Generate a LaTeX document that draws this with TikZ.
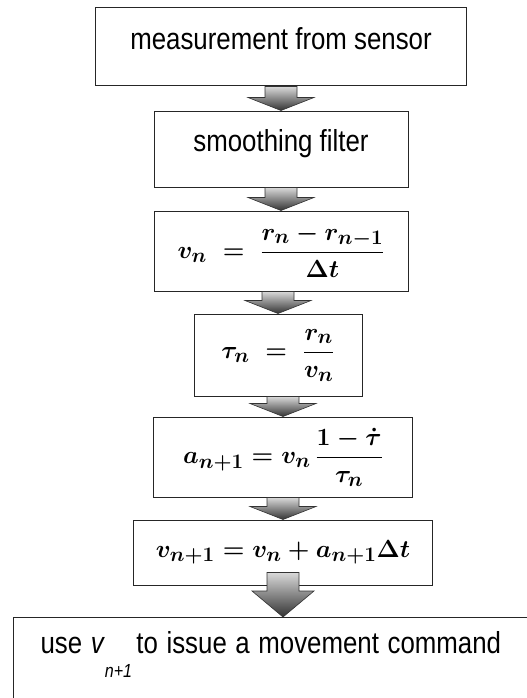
\documentclass[tikz,border=0pt]{standalone}
\usepackage{amsmath}
\usepackage{fontspec}
\setmainfont{Liberation Sans}
\usetikzlibrary{positioning,calc}

\newcommand{\narrowtxt}[1]{\scalebox{0.85}[1]{#1}}

\begin{document}
\begin{tikzpicture}[
      x=1bp, y=-1bp,
      node distance=22bp,
      every node/.style={font=\fontsize{30.5}{35}\selectfont},
      txtbox/.style={draw=black!85, line width=1bp, fill=white, text height=19bp, text depth=14bp},
      mathbox/.style={draw=black!85, line width=1bp, fill=white, inner sep=3bp, font=\fontsize{29}{33}\selectfont\boldmath},
      blockarr/.style={draw=black!80, line width=0.6bp, top color=gray!30, bottom color=black!80},
    ]
    \clip (0,0) rectangle (527,698);

    % Steps
    \node[txtbox, minimum width=370bp, minimum height=78bp] (meas) at (281,47) {\narrowtxt{measurement from sensor}};
    \node[txtbox, minimum width=254bp, minimum height=76bp, below=24bp of meas] (smooth) {\narrowtxt{smoothing filter}};
    \node[mathbox, minimum width=254bp, minimum height=80bp, below=23bp of smooth] (vel) {$v_n \;=\; \dfrac{r_n - r_{n-1}}{\Delta t}$};
    \node[mathbox, minimum width=168bp, minimum height=82bp, below=of vel, xshift=-3bp] (tau) {$\tau_n \;=\; \dfrac{r_n}{v_n}$};
    \node[mathbox, minimum width=259bp, minimum height=80bp, below=20bp of tau, xshift=5bp] (acc) {$a_{n+1} = v_n\,\dfrac{1-\dot{\tau}}{\tau_n}$};
    \node[mathbox, minimum width=299bp, minimum height=65bp, below=of acc] (vnext) {$v_{n+1} = v_n + a_{n+1}\Delta t$};

    % Output, runs off the page
    \node[draw=black!85, line width=1bp, fill=white, anchor=north west, align=left, text width=480bp,
          inner xsep=27bp, inner ysep=8bp, text height=28bp, text depth=90bp] (cmd) at (13,617)
      {\narrowtxt{use \textit{v}\raisebox{-24bp}{\fontsize{19}{19}\selectfont\textit{n+1}}\hspace{5bp}to issue a movement command}};

    % Block arrows
    \foreach \a/\b in {meas/smooth, smooth/vel, vel/tau, tau/acc, acc/vnext}
      \draw[blockarr] let \p1=(\a.south), \p2=(\b.north) in
        (\x2-16bp,\y1) -- (\x2+16bp,\y1) -- (\x2+16bp,\y2+13bp) -- (\x2+33bp,\y2+13bp)
        -- (\x2,\y2) -- (\x2-33bp,\y2+13bp) -- (\x2-16bp,\y2+13bp) -- cycle;
    \draw[blockarr] let \p1=(vnext.south), \p2=(cmd.north west) in
      (\x1-16bp,\y1+13bp) -- (\x1+16bp,\y1+13bp) -- (\x1+16bp,\y2+26bp) -- (\x1+31bp,\y2+26bp)
      -- (\x1,\y2) -- (\x1-31bp,\y2+26bp) -- (\x1-16bp,\y2+26bp) -- cycle;
  \end{tikzpicture}
\end{document}
